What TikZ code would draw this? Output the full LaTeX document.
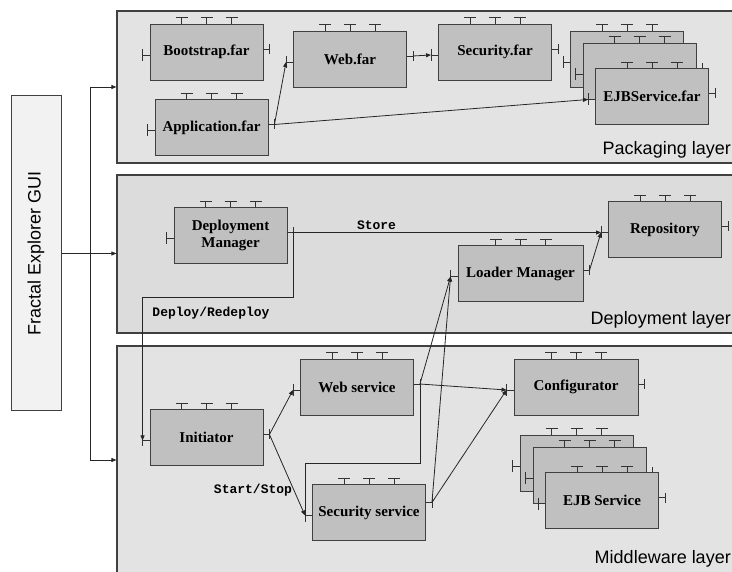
\documentclass[tikz,border=0pt]{standalone}
\usepackage{fontspec}
\usepackage{graphicx}
\setmainfont{Liberation Serif}
\setsansfont{Liberation Sans}
\setmonofont{Liberation Mono}
\usetikzlibrary{arrows.meta}

\definecolor{layerfill}{HTML}{E3E3E3}
\definecolor{deplfill}{HTML}{DCDCDC}
\definecolor{compfill}{HTML}{C0C0C0}
\definecolor{guifill}{HTML}{F2F2F2}
\definecolor{edgegray}{HTML}{404040}

\tikzset{
  layer/.style={draw=edgegray, line width=1.2pt, fill=layerfill, inner sep=0pt,
    minimum width=619pt},
  comp/.style={draw=edgegray, line width=0.9pt, fill=compfill, minimum width=113pt,
    minimum height=56pt, inner sep=1pt, align=center,
    font=\fontsize{15}{17}\selectfont\bfseries},
  port/.style={draw=black!80, line width=0.8pt},
  conn/.style={draw=black!85, line width=0.8pt},
  arr/.style={conn, -{Triangle[length=5pt,width=4pt]}},
  lbl/.style={font=\fontsize{13}{15}\selectfont\ttfamily\bfseries, inner sep=0pt},
  layerlbl/.style={font=\fontsize{18}{20}\selectfont\sffamily, inner sep=0pt,
    anchor=base east},
}

% three ports on top, one left, one right (#1 = raise of the right one)
\newcommand{\ports}[2][3]{%
  \foreach \dx in {-25,0,25}
    \draw[port] ([xshift=\dx pt]#2.north) -- ++(0,-6) ++(-6,0) -- ++(12,0);
  \draw[port] ([yshift=-3pt]#2.west) -- ++(-7,0) coordinate (#2-l) ++(0,-6) -- ++(0,12);
  \draw[port] ([yshift=#1pt]#2.east) -- ++(6,0) coordinate (#2-r) ++(0,-5) -- ++(0,10);
}

\begin{document}
\begin{tikzpicture}[x=1pt, y=-1pt]
  \useasboundingbox (0,0) rectangle (732,572);

  % Layers
  \node[layer, minimum height=152pt] (pack) at (426.5,87) {};
  \node[layer, fill=deplfill, minimum height=158pt] (depl) at (426.5,254) {};
  \node[layer, minimum height=228pt] (mid) at (426.5,460) {};
  \node[layerlbl] (packlbl) at (731,155) {Packaging layer};
  \node[layerlbl] (depllbl) at (731,325) {Deployment layer};
  \node[layerlbl] (midlbl) at (731,563) {Middleware layer};

  \node[draw=edgegray, line width=1pt, fill=guifill, minimum width=50pt,
    minimum height=315pt, inner sep=0pt] (gui) at (36,253.5)
    {\rotatebox{90}{\fontsize{18}{20}\selectfont\sffamily Fractal Explorer GUI}};

  % Packaging layer
  \node[comp] (boot) at (206.5,52) {Bootstrap.far}; \ports{boot}
  \node[comp] (app) at (211.5,127.5) {Application.far}; \ports{app}
  \node[comp] (webfar) at (350,59) {Web.far}; \ports{webfar}
  \node[comp] (secfar) at (495,52) {Security.far}; \ports{secfar}
  \node[comp] (ejbfarA) at (627,59) {}; \ports{ejbfarA}
  \node[comp] (ejbfarB) at (639.5,71) {}; \ports{ejbfarB}
  \node[comp] (ejbfar) at (652,96.5) {EJBService.far}; \ports{ejbfar}

  % Deployment layer
  \node[comp] (dm) at (230.5,235.5) {Deployment\\Manager}; \ports{dm}
  \node[comp] (repo) at (665,229.5) {Repository}; \ports{repo}
  \node[comp, minimum width=125pt] (lm) at (520.5,273.5) {Loader Manager}; \ports{lm}

  % Middleware layer
  \node[comp] (ws) at (357,387) {Web service}; \ports{ws}
  \node[comp] (init) at (206.5,437.5) {Initiator}; \ports{init}
  \node[comp] (ss) at (369,512.5) {Security service}; \ports[10]{ss}
  \node[comp, minimum width=124pt] (conf) at (576,387) {Configurator}; \ports{conf}
  \node[comp] (ejbA) at (576.5,463) {}; \ports{ejbA}
  \node[comp] (ejbB) at (589.5,475) {}; \ports{ejbB}
  \node[comp] (ejb) at (602,500.5) {EJB Service}; \ports{ejb}

  % Connect the nodes
  \draw[conn] (gui.east) -- ++(29,0) coordinate (split);
  \draw[arr] (split) |- (pack.west);
  \draw[arr] (split) -- (split -| depl.west);
  \draw[arr] (split) |- (mid.west);

  \draw[arr] (webfar-r) -- (secfar-l);
  \draw[arr] (app-r) -- (webfar-l);
  \draw[arr] (app-r) -- (ejbfar-l);

  \draw[arr] (dm-r) -- node[lbl, pos=0.27, above=2pt] (storelbl) {Store} (repo-l);
  \draw[arr] (dm-r) -- ++(0,65) -| (init-l);
  \node[lbl] (deplbl) at (211,313) {Deploy/Redeploy};
  \draw[arr] (lm-r) -- (repo-l);

  \draw[arr] (init-r) -- (ws-l);
  \draw[arr] (init-r) -- (ss-l);
  \node[lbl] (startlbl) at (253,490) {Start/Stop};
  \draw[arr] (ws-r) -- (lm-l);
  \draw[arr] (ws-r) -- (conf-l);
  \draw[conn] (ws-r) -- ++(0,79) -| (ss-l);
  \draw[arr] (ss-r) -- (lm-l);
  \draw[arr] (ss-r) -- (conf-l);

\end{tikzpicture}
\end{document}
